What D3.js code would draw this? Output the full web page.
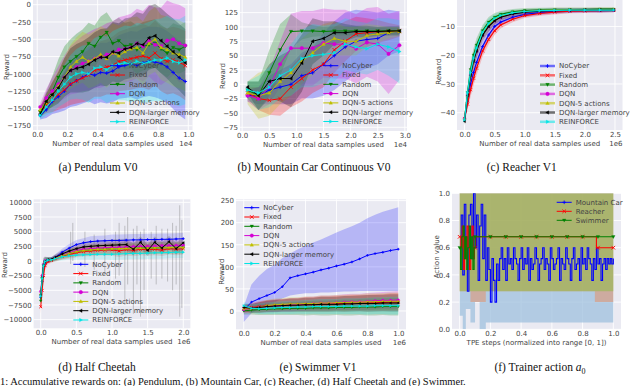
<!DOCTYPE html>
<html><head><meta charset="utf-8">
<script src="https://cdn.jsdelivr.net/npm/d3@7"></script>
<style>body{margin:0;background:#fff;overflow:hidden}svg{display:block}</style>
</head><body><svg id="c" width="640" height="386"></svg>
<script>
// ---------- shared series info ----------
const names = ["NoCyber","Fixed","Random","DQN","DQN-5 actions","DQN-larger memory","REINFORCE"];
const colors = ["#0000ff","#ff0000","#008000","#d400d4","#bfbf00","#000000","#00e5e5"];
const markers = ["plus","x","v","o","^","<",">"];

// ---------- (a) Pendulum ----------
const pendX = [200,600,1000,1400,1800,2200,2600,3000,3400,3800,4200,4600,5000,5400,5800,6200,6600,7000,7400,7800,8200,8600,9000,9400,9800];
const pendNoCyber = [-1600,-1520,-1400,-1330,-1250,-1150,-1100,-1050,-1000,-1020,-980,-990,-960,-900,-880,-860,-880,-840,-820,-830,-850,-900,-980,-1060,-1110];
const pendFixed = [-1560,-1450,-1380,-1300,-1230,-1150,-1100,-1060,-1020,-950,-930,-900,-880,-820,-800,-780,-760,-740,-770,-700,-780,-820,-800,-830,-880];
const pendRandom = [-1550,-1400,-1250,-1050,-900,-820,-750,-680,-560,-600,-470,-400,-560,-520,-600,-580,-650,-600,-580,-560,-640,-700,-620,-650,-600];
const pendDQN = [-1480,-1350,-1250,-1150,-1050,-950,-900,-850,-820,-780,-760,-720,-700,-650,-640,-620,-560,-600,-520,-580,-600,-520,-500,-560,-590];
const pendDQN5 = [-1520,-1420,-1300,-1180,-1050,-900,-820,-760,-820,-780,-720,-780,-700,-740,-680,-640,-620,-700,-560,-500,-620,-650,-700,-720,-760];
const pendLarger = [-1580,-1400,-1300,-1200,-1050,-950,-920,-900,-860,-800,-760,-760,-680,-700,-640,-620,-560,-580,-480,-450,-520,-600,-680,-760,-840];
const pendReinforce = [-1600,-1480,-1380,-1250,-1150,-1050,-1000,-980,-1000,-920,-900,-940,-880,-860,-840,-860,-820,-850,-830,-800,-800,-770,-820,-840,-800];
const pendNoCyberSd = [60,120,180,230,280,330,360,380,400,420,430,440,450,460,470,480,490,500,500,510,520,520,530,540,550];
const pendFixedSd = [60,120,170,220,260,300,330,350,370,380,400,400,420,430,440,450,450,460,460,470,470,480,480,490,500];
const pendRandomSd = [70,150,220,260,300,320,330,320,300,300,300,290,320,330,340,340,350,350,350,350,350,350,350,350,350];
const pendDQNSd = [60,130,200,260,310,350,380,400,420,430,440,450,460,470,480,490,500,510,520,540,560,580,520,560,540];
const pendDQN5Sd = [60,120,180,230,280,320,350,370,390,400,410,420,430,440,440,450,450,460,460,470,470,480,480,490,490];
const pendLargerSd = [60,120,180,230,280,320,350,370,390,400,410,420,430,430,440,440,450,450,460,460,470,470,480,480,490];
const pendReinforceSd = [60,120,180,230,280,320,360,390,420,440,460,480,500,520,540,550,560,570,580,590,600,610,620,630,640];

// ---------- (b) Mountain Car Continuous ----------
const mcX = [1000,3000,5000,7000,9000,11000,13000,15000,17000,19000,21000,23000,25000,27000,29000];
const mcNoCyber = [-20,-20,-10,-5,0,15,20,35,50,65,75,78,80,90,92];
const mcFixed = [-15,-25,-28,-25,-5,10,25,35,60,75,88,90,92,92,93];
const mcRandom = [-10,-20,20,60,92,93,93,92,93,93,93,93,93,93,93];
const mcDQN = [-20,-25,-5,35,63,63,63,72,70,70,62,73,70,53,68];
const mcDQN5 = [-15,-20,-15,5,20,40,55,70,80,75,75,85,88,90,92];
const mcLarger = [-5,-20,5,10,10,37,75,80,90,90,92,92,92,93,93];
const mcReinforce = [-10,-15,-5,15,25,45,50,52,55,70,65,62,70,65,57];
const mcNoCyberSd = [10,15,25,30,35,40,45,55,60,60,55,50,45,40,35];
const mcFixedSd = [10,20,25,30,35,40,40,40,40,35,30,25,20,15,10];
const mcRandomSd = [15,25,40,45,30,15,10,8,8,8,8,6,6,6,6];
const mcDQNSd = [10,20,30,40,60,65,65,60,60,60,60,60,65,70,60];
const mcDQN5Sd = [20,40,40,40,40,40,40,35,30,25,25,20,15,10,8];
const mcLargerSd = [10,25,30,40,50,50,40,30,20,15,10,10,8,8,8];
const mcReinforceSd = [15,30,35,40,45,50,55,50,50,45,45,45,45,50,55];

// ---------- (c) Reacher ----------
const reachX = [0,5e4,1e5,1.5e5,2e5,3e5,4e5,5e5,6e5,8e5,1e6,1.25e6,1.5e6,1.75e6,2e6,2.25e6,2.48e6];
const reachNoCyber = [-42,-36,-30,-26,-22.5,-17,-13,-10,-8.5,-6.8,-5.8,-5.2,-4.8,-4.6,-4.5,-4.5,-4.4];
const reachFixed = [-42,-37,-32,-28,-24.5,-18.5,-14.5,-11.5,-9.5,-7.5,-6.2,-5.5,-5,-4.7,-4.6,-4.5,-4.4];
const reachRandom = [-42.5,-33,-25,-20,-16.5,-11.5,-8.5,-6.8,-5.8,-4.9,-4.5,-4.3,-4.2,-4.1,-4.1,-4.0,-4.0];
const reachDQN = [-42,-34,-27,-22,-18.5,-13,-10,-8,-6.8,-5.6,-5,-4.7,-4.5,-4.4,-4.3,-4.3,-4.3];
const reachDQN5 = [-42,-34,-27,-22,-18,-12.5,-9.5,-7.6,-6.4,-5.3,-4.8,-4.5,-4.3,-4.2,-4.2,-4.1,-4.1];
const reachLarger = [-43,-34,-27,-22,-18.5,-13,-10,-8,-6.8,-5.6,-5,-4.7,-4.5,-4.4,-4.3,-4.3,-4.3];
const reachReinforce = [-42.5,-33,-26,-21,-17.5,-12,-9,-7.2,-6.2,-5.2,-4.8,-4.5,-4.4,-4.3,-4.3,-4.3,-4.3];
const reachSd = [1.5,2,2.5,2.5,2.5,2,1.8,1.5,1.2,1,0.9,0.8,0.8,0.7,0.7,0.7,0.7];

// ---------- (d) Half Cheetah ----------
const hcX = [0,2e4,4e4,6e4,1e5,1.5e5,2e5,3e5,4e5,5e5,6e5,7e5,8e5,9e5,1e6,1.1e6,1.2e6,1.3e6,1.4e6,1.5e6,1.6e6,1.7e6,1.8e6,1.9e6,2e6];
const hcNoCyber = [-6200,-3500,-1200,-300,100,300,600,1500,2200,2800,3100,3300,3400,3450,3500,3500,3550,3600,3600,3650,3650,3700,3700,3750,3800];
const hcFixed = [-7800,-5000,-2500,-800,-100,100,400,800,1100,1400,1600,1700,1800,1850,1900,1700,1950,1800,2000,1900,2000,1850,2100,2000,2100];
const hcRandom = [-6800,-3000,-800,-100,200,250,500,900,1300,1600,1800,1900,2000,2050,2100,2100,2200,2150,2200,2250,2200,2300,2250,2300,2300];
const hcDQN = [-5200,-2500,-600,0,150,250,500,1000,1400,1800,2000,2100,2200,2250,2300,2350,2400,2450,2500,2500,2550,2600,2600,2650,2700];
const hcDQN5 = [-5600,-2800,-700,-100,150,200,450,900,1300,1600,1800,1900,2000,2000,2100,2100,2150,2150,2200,2200,2250,2250,2300,2300,2300];
const hcLarger = [-5800,-2800,-700,-100,200,300,600,1200,1700,2100,2400,2500,2600,2650,2700,2750,2800,2000,3200,1800,3200,2200,3300,2100,3100];
const hcReinforce = [-6000,-3000,-800,-100,150,200,400,700,900,1000,1050,1100,1150,1150,1150,1200,1250,1300,1300,1350,1400,1400,1450,1500,1500];
const hcSd = [1200,1500,1200,800,500,400,500,600,700,800,800,900,900,900,1000,1000,1000,1000,1000,1000,1000,1000,1000,1000,1000];
const hcSpikeX = [4.2e5,4.5e5,6.2e5,7.5e5,9e5,1.05e6,1.1e6,1.18e6,1.22e6,1.3e6,1.35e6,1.4e6,1.45e6,1.55e6,1.62e6,1.7e6,1.78e6,1.85e6,1.9e6,1.95e6,1.98e6];
const hcSpikeHi = [5000,6500,5000,4500,5500,5000,6500,6000,7500,5500,6000,5000,5500,5000,6000,5500,5500,6500,6000,9500,7000];
const hcSpikeLo = [-500,0,-1000,-1500,-2000,-3000,-2500,-7500,-4000,-9000,-4000,-9500,-5000,-3000,-4000,-3000,-3500,-5000,-4000,-9500,-8000];

// ---------- (e) Swimmer ----------
const swX = [0,5e4,1e5,1.5e5,2e5,2.5e5,3e5,3.5e5,4e5,4.5e5,5e5,5.5e5,6e5,6.5e5,7e5,7.5e5,8e5,8.5e5,9e5,9.5e5,1e6];
const swNoCyber = [2,20,28,35,42,55,75,80,84,88,93,97,102,106,111,118,126,130,133,137,140];
const swNoCyberLo = [-25,-5,5,15,20,28,35,38,40,40,42,42,43,44,44,45,45,45,45,45,45];
const swNoCyberHi = [10,60,80,95,105,120,130,140,148,155,162,170,178,185,192,200,210,218,225,230,235];
const swFixed = [5,8,10,12,12,13,14,14,15,15,16,16,17,17,18,18,18,19,19,20,20];
const swRandom = [0,2,3,4,5,5,6,6,6,7,7,7,8,8,8,9,9,9,10,10,10];
const swDQN = [3,6,8,10,12,13,14,15,16,17,18,18,19,20,21,21,22,23,24,24,25];
const swDQN5 = [5,5,8,12,14,15,16,16,17,17,18,18,19,19,20,20,21,21,22,22,22];
const swLarger = [8,6,8,10,11,12,13,13,14,14,15,15,15,16,16,17,17,17,18,18,18];
const swReinforce = [12,6,5,6,7,8,8,9,9,10,10,10,10,11,11,11,11,12,12,12,12];
const swSd = [8,10,12,13,14,14,15,15,16,16,17,17,17,18,18,18,19,19,19,20,20];

// ---------- (f) Trainer action ----------
const tpeNames = ["Mountain Car","Reacher","Swimmer"];
const tpeColors = ["#0000ff","#ff0000","#008000"];
const tpeMarkers = ["plus","x","v"];
const tpeMountainCar = [0.6,0.84,0.4,0.92,0.68,0.28,0.84,0.92,0.52,1.0,0.6,0.84,0.36,0.76,0.92,0.52,0.84,
 0.36,0.6,0.44,
 0.2,0.52,0.36,0.2,0.48,0.36,
 0.52,0.6,0.44,0.52,0.36,0.6,0.48,0.52,0.44,0.6,0.52,0.48,0.36,0.52,0.6,0.44,0.52,0.48,0.6,0.36,
 0.52,0.44,0.48,0.6,0.52,0.36,0.48,0.52,0.6,0.44,0.52,0.48,0.36,0.6,0.52,0.44,0.48,0.52,0.6,0.36,
 0.52,0.48,0.44,0.6,0.52,0.48,0.36,0.52,0.6,0.44,0.48,0.52,0.36,0.6,0.48,0.52,0.44,0.6,0.52,0.48,
 0.36,0.52,0.44,0.6,0.48,0.52,0.36,0.48,0.52,0.44,0.52,0.48,0.52,0.48,0.52];
const tpeReacherX = [0,0.008,0.016,0.024,0.032,0.04,0.048,0.056,0.064,0.072,0.08,0.088,0.096,0.104,0.89,1.0];
const tpeReacherV = [0.68,0.6,0.76,0.44,0.68,0.52,0.76,0.6,0.44,0.68,0.76,0.52,0.6,0.68,0.6,0.6];
const tpeSwimmerX = [0,0.006,0.014,0.022,0.03,0.038,0.046,0.054,0.062,0.07,0.078,0.086,0.094,0.1,1.0];
const tpeSwimmerV = [0.6,0.44,0.68,0.76,0.52,0.68,0.44,0.6,0.76,0.52,0.68,0.44,0.6,0.68,0.68];
const tpeMarkX = [0,0.1,0.2,0.3,0.4,0.5,0.6,0.7,0.8,0.9,1.0];
const mcBandX = [0,0.02,0.04,0.07,0.1,0.13,0.17,1.0];
const mcBandLo = [0.1,0.0,0.15,0.05,0.2,0.0,0.05,0.05];
const mcBandHi = [1,1,1,1,1,1,1,1];
const reBandX = [0,0.07,0.17,0.88,1.0];
const reBandLo = [0.28,0.2,0.28,0.2,0.2];
const reBandHi = [1,1,1,1,1];
const swBandX = [0,0.17,1.0];
const swBandLo = [0.28,0.28,0.28];
const swBandHi = [1,1,1];

// ---------- drawing ----------
const svg = d3.select("#c");
const defs = svg.append("defs");
const FONT = "'DejaVu Sans', sans-serif";
const SERIF = "'Liberation Serif', 'Times New Roman', serif";
const TXT = "#444";
let clipN = 0;

function markerPath(type, r){
  switch(type){
    case "plus": return `M${-r},0H${r}M0,${-r}V${r}`;
    case "x": return `M${-r},${-r}L${r},${r}M${-r},${r}L${r},${-r}`;
    case "v": return `M${-r},${-r*0.7}L${r},${-r*0.7}L0,${r}Z`;
    case "^": return `M${-r},${r*0.7}L${r},${r*0.7}L0,${-r}Z`;
    case "<": return `M${r*0.7},${-r}L${r*0.7},${r}L${-r},0Z`;
    case ">": return `M${-r*0.7},${-r}L${-r*0.7},${r}L${r},0Z`;
    case "o": return `M${r},0A${r},${r} 0 1,1 ${-r},0A${r},${r} 0 1,1 ${r},0Z`;
  }
}
function drawMarker(g, type, cx, cy, r, color){
  const stroke = (type==="plus"||type==="x");
  g.append("path").attr("d", markerPath(type,r)).attr("transform",`translate(${cx},${cy})`)
    .attr("fill", stroke?"none":color).attr("stroke", color).attr("stroke-width", stroke?0.9:0.3);
}

function panel(cfg){
  const g = svg.append("g");
  const x = d3.scaleLinear().domain(cfg.xDom).range([cfg.L, cfg.R]);
  const y = d3.scaleLinear().domain(cfg.yDom).range([cfg.B, cfg.T]);
  g.append("rect").attr("x",cfg.L).attr("y",cfg.T).attr("width",cfg.R-cfg.L).attr("height",cfg.B-cfg.T).attr("fill","#EAEAF2");
  g.selectAll(".gx").data(cfg.xTicks).join("line").attr("x1",d=>x(d)).attr("x2",d=>x(d)).attr("y1",cfg.T).attr("y2",cfg.B).attr("stroke","#fff").attr("stroke-width",0.9);
  g.selectAll(".gy").data(cfg.yTicks).join("line").attr("y1",d=>y(d)).attr("y2",d=>y(d)).attr("x1",cfg.L).attr("x2",cfg.R).attr("stroke","#fff").attr("stroke-width",0.9);
  const id = "clip"+(clipN++);
  defs.append("clipPath").attr("id",id).append("rect").attr("x",cfg.L).attr("y",cfg.T).attr("width",cfg.R-cfg.L).attr("height",cfg.B-cfg.T);
  const pg = g.append("g").attr("clip-path",`url(#${id})`);
  cfg.draw(pg, x, y);
  const ax = g.append("g").attr("transform",`translate(0,${cfg.B})`)
    .call(d3.axisBottom(x).tickValues(cfg.xTicks).tickFormat(cfg.xFmt).tickSize(0).tickPadding(2));
  const ay = g.append("g").attr("transform",`translate(${cfg.L},0)`)
    .call(d3.axisLeft(y).tickValues(cfg.yTicks).tickFormat(cfg.yFmt).tickSize(0).tickPadding(2));
  [ax,ay].forEach(a=>{ a.select(".domain").remove(); a.attr("font-size",7).attr("font-family",FONT).attr("color",TXT); });
  g.append("text").attr("x",(cfg.L+cfg.R)/2).attr("y",cfg.B+15.5).attr("text-anchor","middle")
    .attr("font-size",7).attr("font-family",FONT).attr("fill",TXT).text(cfg.xLabel);
  if(cfg.offset) g.append("text").attr("x",cfg.R).attr("y",cfg.B+15.5).attr("text-anchor","end")
    .attr("font-size",7).attr("font-family",FONT).attr("fill",TXT).text(cfg.offset);
  g.append("text").attr("transform",`translate(${cfg.ylx},${cfg.yly}) rotate(-90)`).attr("text-anchor","middle")
    .attr("dy","0.35em").attr("font-size",7).attr("font-family",FONT).attr("fill",TXT).text(cfg.yLabel);
  const lg = g.append("g");
  cfg.legend.items.forEach((it,i)=>{
    const yy = cfg.legend.y + i*cfg.legend.dy;
    lg.append("line").attr("x1",cfg.legend.x).attr("x2",cfg.legend.x+15).attr("y1",yy).attr("y2",yy)
      .attr("stroke",it.color).attr("stroke-width",cfg.legend.lw||1).attr("stroke-opacity",cfg.legend.op||1);
    drawMarker(lg, it.marker, cfg.legend.x+7.5, yy, 1.8, it.color);
    lg.append("text").attr("x",cfg.legend.x+19).attr("y",yy).attr("dy","0.35em").attr("font-size",7)
      .attr("font-family",FONT).attr("fill",TXT).text(it.name);
  });
  const cap = svg.append("text").attr("x",cfg.capX).attr("y",cfg.capY).attr("text-anchor","middle")
    .attr("font-size",11.5).attr("font-family",SERIF).attr("fill","#111");
  if(cfg.caption) cap.text(cfg.caption);
  return cap;
}

function drawSeries(pg, x, y, series, opts){
  series.forEach(s=>{
    const pts = s.x.map((xv,i)=>({x:xv, lo: s.lo? s.lo[i] : s.mean[i]-s.sd[i], hi: s.hi? s.hi[i] : s.mean[i]+s.sd[i]}));
    pg.append("path").datum(pts).attr("d", d3.area().x(d=>x(d.x)).y0(d=>y(d.lo)).y1(d=>y(d.hi)))
      .attr("fill", s.color).attr("fill-opacity", opts.alpha).attr("stroke","none");
  });
  if(opts.extra) opts.extra(pg,x,y);
  series.forEach(s=>{
    const pts = s.x.map((xv,i)=>[xv,s.mean[i]]);
    pg.append("path").datum(pts).attr("d", d3.line().x(d=>x(d[0])).y(d=>y(d[1])))
      .attr("fill","none").attr("stroke",s.color).attr("stroke-width",opts.lw||1);
    pts.forEach(p=>drawMarker(pg, s.marker, x(p[0]), y(p[1]), opts.mr, s.color));
  });
}
function build(xs, means, sds){
  return names.map((n,i)=>({name:n,color:colors[i],marker:markers[i],x:xs,mean:means[i],sd:Array.isArray(sds[0])?sds[i]:sds}));
}
const legendItems = names.map((n,i)=>({name:n,color:colors[i],marker:markers[i]}));
const minus = v => (v<0? "\u2212"+Math.abs(v) : ""+v);

// (a)
panel({L:33,R:192.5,T:0,B:130,xDom:[-280,10280],yDom:[-1812,68],
  xTicks:[0,2000,4000,6000,8000,10000], xFmt:d=>(d/1e4).toFixed(1),
  yTicks:[0,-250,-500,-750,-1000,-1250,-1500,-1750], yFmt:minus,
  xLabel:"Number of real data samples used", offset:"1e4", yLabel:"Reward", ylx:7, yly:67,
  legend:{x:110,y:65.7,dy:9.33,items:legendItems},
  caption:"(a) Pendulum V0", capX:98, capY:171,
  draw:(pg,x,y)=>drawSeries(pg,x,y,build(pendX,[pendNoCyber,pendFixed,pendRandom,pendDQN,pendDQN5,pendLarger,pendReinforce],
    [pendNoCyberSd,pendFixedSd,pendRandomSd,pendDQNSd,pendDQN5Sd,pendLargerSd,pendReinforceSd]),{alpha:0.27,mr:1.8})
});
// (b)
panel({L:240,R:407,T:0,B:131,xDom:[-400,30400],yDom:[-81.5,147],
  xTicks:[0,5000,10000,15000,20000,25000,30000], xFmt:d=>(d/1e4).toFixed(1),
  yTicks:[-75,-50,-25,0,25,50,75,100,125], yFmt:minus,
  xLabel:"Number of real data samples used", offset:"1e4", yLabel:"Reward", ylx:222.7, yly:76,
  legend:{x:323.3,y:65.7,dy:9.3,items:legendItems},
  caption:"(b) Mountain Car Continuous V0", capX:314, capY:171,
  draw:(pg,x,y)=>drawSeries(pg,x,y,build(mcX,[mcNoCyber,mcFixed,mcRandom,mcDQN,mcDQN5,mcLarger,mcReinforce],
    [mcNoCyberSd,mcFixedSd,mcRandomSd,mcDQNSd,mcDQN5Sd,mcLargerSd,mcReinforceSd]),{alpha:0.25,mr:1.8})
});
// (c)
panel({L:457,R:622.5,T:0,B:130,xDom:[-1.25e5,2.625e6],yDom:[-46,-0.8],
  xTicks:[0,5e5,1e6,1.5e6,2e6,2.5e6], xFmt:d=>(d/1e6).toFixed(1),
  yTicks:[-40,-30,-20,-10], yFmt:minus,
  xLabel:"Number of real data samples used", offset:"1e6", yLabel:"Reward", ylx:438.3, yly:71.7,
  legend:{x:540,y:66,dy:9.3,items:legendItems,lw:2.5,op:0.55},
  caption:"(c) Reacher V1", capX:521.7, capY:171,
  draw:(pg,x,y)=>drawSeries(pg,x,y,build(reachX,[reachNoCyber,reachFixed,reachRandom,reachDQN,reachDQN5,reachLarger,reachReinforce],reachSd),{alpha:0.2,mr:1.5,lw:1.2})
});
// (d)
panel({L:33.6,R:190.4,T:199.3,B:328.3,xDom:[-1e5,2.1e6],yDom:[-11475,10520],
  xTicks:[0,5e5,1e6,1.5e6,2e6], xFmt:d=>(d/1e6).toFixed(1),
  yTicks:[-10000,-7500,-5000,-2500,0,2500,5000,7500,10000], yFmt:minus,
  xLabel:"Number of real data samples used", offset:"1e6", yLabel:"Reward", ylx:4.5, yly:265,
  legend:{x:73.3,y:264.3,dy:9.28,items:legendItems},
  caption:"(d) Half Cheetah", capX:97, capY:371,
  draw:(pg,x,y)=>drawSeries(pg,x,y,build(hcX,[hcNoCyber,hcFixed,hcRandom,hcDQN,hcDQN5,hcLarger,hcReinforce],hcSd),{alpha:0.15,mr:1.4,
    extra:(g,x,y)=>{ hcSpikeX.forEach((sx,i)=>{ g.append("line").attr("x1",x(sx)).attr("x2",x(sx)).attr("y1",y(hcSpikeLo[i])).attr("y2",y(hcSpikeHi[i]))
      .attr("stroke","#666").attr("stroke-opacity",0.35).attr("stroke-width",1); }); }})
});
// (e)
const swSeries = build(swX,[swNoCyber,swFixed,swRandom,swDQN,swDQN5,swLarger,swReinforce],swSd);
swSeries[0].lo = swNoCyberLo; swSeries[0].hi = swNoCyberHi;
panel({L:236,R:406,T:199.3,B:329.3,xDom:[-0.05e6,1.05e6],yDom:[-41.5,253],
  xTicks:[0,2e5,4e5,6e5,8e5,1e6], xFmt:d=>(d/1e6).toFixed(1),
  yTicks:[0,50,100,150,200,250], yFmt:minus,
  xLabel:"Number of real data samples used", offset:"1e6", yLabel:"Reward", ylx:221.7, yly:271.7,
  legend:{x:244.3,y:207.7,dy:9.3,items:legendItems},
  caption:"(e) Swimmer V1", capX:318, capY:371,
  draw:(pg,x,y)=>drawSeries(pg,x,y,swSeries,{alpha:0.22,mr:1.3})
});
// (f)
const capF = panel({L:452,R:621,T:193.3,B:329.3,xDom:[-0.05,1.05],yDom:[0,1],
  xTicks:[0,0.2,0.4,0.6,0.8,1.0], xFmt:d=>d.toFixed(1),
  yTicks:[0,0.2,0.4,0.6,0.8,1.0], yFmt:d=>d.toFixed(1),
  xLabel:"TPE steps (normalized into range [0, 1])", offset:null, yLabel:"Action value", ylx:436.7, yly:256.7,
  legend:{x:556.7,y:202.3,dy:9,items:tpeNames.map((n,i)=>({name:n,color:tpeColors[i],marker:tpeMarkers[i]}))},
  caption:null, capX:540, capY:371,
  draw:(pg,x,y)=>{
    const band=(bx,lo,hi,col,op)=>pg.append("path").datum(bx.map((v,i)=>({x:v,lo:lo[i],hi:hi[i]})))
      .attr("d",d3.area().curve(d3.curveStepAfter).x(d=>x(d.x)).y0(d=>y(d.lo)).y1(d=>y(d.hi))).attr("fill",col).attr("fill-opacity",op);
    band(mcBandX,mcBandLo,mcBandHi,"#9fc0dd",0.75);
    band(reBandX,reBandLo,reBandHi,"#f57a3d",0.4);
    band(swBandX,swBandLo,swBandHi,"#87be3c",0.5);
    const n = tpeMountainCar.length;
    const mcPts = tpeMountainCar.map((v,i)=>[i/(n-1),v]);
    pg.append("path").datum(mcPts).attr("d",d3.line().curve(d3.curveStepAfter).x(d=>x(d[0])).y(d=>y(d[1])))
      .attr("fill","none").attr("stroke","#0000ff").attr("stroke-width",1.1);
    const stepAt=(xs,vs,t)=>{ let v=vs[0]; xs.forEach((xx,i)=>{ if(xx<=t+1e-9) v=vs[i]; }); return v; };
    [[tpeReacherX,tpeReacherV,1],[tpeSwimmerX,tpeSwimmerV,2]].forEach(([xs,vs,k])=>{
      pg.append("path").datum(xs.map((v,i)=>[v,vs[i]])).attr("d",d3.line().curve(d3.curveStepAfter).x(d=>x(d[0])).y(d=>y(d[1])))
        .attr("fill","none").attr("stroke",tpeColors[k]).attr("stroke-width",1.1);
      tpeMarkX.forEach(t=>drawMarker(pg,tpeMarkers[k],x(t),y(stepAt(xs,vs,t)),1.8,tpeColors[k]));
    });
  }
});
capF.append("tspan").text("(f) Trainer action ");
capF.append("tspan").attr("font-style","italic").text("a");
capF.append("tspan").attr("font-size",8).attr("dy",2.5).text("0");

svg.append("text").attr("x",0).attr("y",385).attr("font-size",10.5).attr("font-family",SERIF).attr("fill","#111")
  .text("1: Accumulative rewards on: (a) Pendulum, (b) Mountain Car, (c) Reacher, (d) Half Cheetah and (e) Swimmer.");
</script></body></html>
